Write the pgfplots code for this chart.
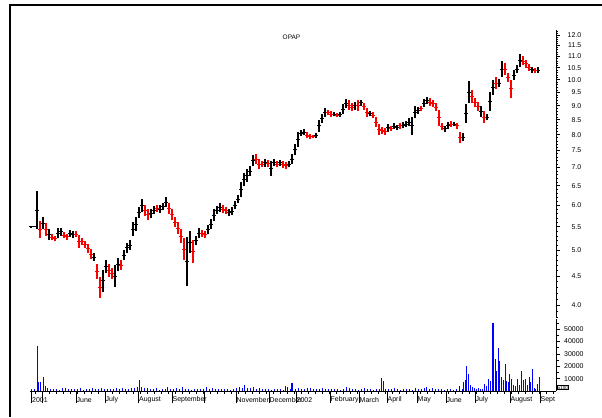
\documentclass[border=0pt]{standalone}
\usepackage{pgfplots}
\pgfplotsset{compat=1.18}
\usepackage{pgfplotstable}
\usepackage{fontspec}
\setmainfont{Liberation Sans}

\pgfplotstableread{
x lo hi
31 5.48 5.52
34 5.49 5.51
37 5.45 6.35
43 5.45 5.72
49 5.22 5.45
58 5.25 5.47
61 5.30 5.48
70 5.28 5.42
73 5.25 5.40
94 4.78 4.95
103 4.22 4.62
106 4.55 4.80
115 4.30 4.70
118 4.60 4.85
124 4.80 5.00
127 4.95 5.15
130 5.00 5.20
133 5.30 5.60
136 5.40 5.72
139 5.70 5.95
142 5.85 6.15
151 5.70 5.90
154 5.80 5.98
160 5.82 6.00
163 5.88 6.05
166 5.95 6.20
187 4.32 5.28
190 4.95 5.40
196 5.10 5.30
199 5.25 5.48
208 5.35 5.55
211 5.45 5.68
214 5.62 5.90
217 5.80 5.98
220 5.85 6.05
229 5.75 5.92
232 5.78 5.95
235 5.90 6.10
238 6.05 6.25
241 6.20 6.60
244 6.50 6.85
247 6.60 6.95
250 6.75 7.05
253 7.05 7.35
265 7.02 7.25
271 6.75 7.20
274 7.05 7.25
280 7.05 7.22
289 7.00 7.20
292 7.10 7.40
295 7.35 7.70
298 7.60 8.10
301 7.95 8.15
304 7.98 8.18
316 7.90 8.05
319 8.10 8.50
322 8.40 8.70
325 8.60 8.90
334 8.62 8.78
340 8.60 8.78
343 8.70 9.05
346 8.90 9.25
355 8.85 9.15
361 9.00 9.22
370 8.62 8.82
388 8.10 8.35
394 8.18 8.38
397 8.15 8.32
403 8.22 8.42
406 8.25 8.45
409 8.30 8.55
412 8.00 8.60
415 8.55 9.00
418 8.70 8.95
424 8.95 9.25
427 9.05 9.32
445 8.10 8.30
448 8.20 8.42
454 8.28 8.42
463 7.80 8.05
466 8.40 9.05
469 9.10 9.95
481 8.60 9.00
487 8.50 8.70
490 8.80 9.50
493 9.40 10.00
499 9.70 10.05
502 10.10 10.80
514 10.00 10.40
517 10.30 10.60
520 10.55 11.10
532 10.30 10.55
538 10.30 10.52
}\upbars

\pgfplotstableread{
x lo hi
40 5.25 5.62
46 5.30 5.58
52 5.20 5.35
55 5.18 5.30
64 5.25 5.38
67 5.22 5.35
76 5.28 5.40
79 5.05 5.32
82 5.10 5.25
85 5.05 5.18
88 4.95 5.12
91 4.82 5.02
97 4.45 4.72
100 4.12 4.48
109 4.48 4.72
112 4.45 4.65
121 4.62 4.80
145 5.75 6.00
148 5.65 5.90
157 5.85 6.00
169 5.80 6.05
172 5.65 5.90
175 5.50 5.72
178 5.35 5.60
181 5.15 5.45
184 4.80 5.25
193 4.75 5.20
202 5.28 5.42
205 5.25 5.40
223 5.82 6.00
226 5.80 5.95
256 7.10 7.38
259 6.95 7.25
262 7.00 7.20
268 7.00 7.22
277 7.00 7.20
283 6.98 7.18
286 6.95 7.15
307 7.88 8.08
310 7.85 8.02
313 7.88 8.00
328 8.65 8.85
331 8.60 8.80
337 8.58 8.75
349 8.85 9.20
352 8.80 9.10
358 8.80 9.20
364 8.85 9.10
367 8.60 8.90
373 8.55 8.78
376 8.25 8.60
379 8.00 8.35
382 8.02 8.25
385 8.00 8.22
391 8.12 8.30
400 8.20 8.40
421 8.80 9.00
430 9.00 9.28
433 8.95 9.20
436 8.80 9.10
439 8.30 8.85
442 8.15 8.40
451 8.25 8.45
457 8.20 8.40
460 7.72 8.10
472 9.10 9.60
475 8.95 9.30
478 8.80 9.15
484 8.40 8.80
496 9.65 10.10
505 10.20 10.70
508 9.90 10.30
511 9.30 10.00
523 10.60 11.00
526 10.50 10.85
529 10.35 10.65
535 10.28 10.50
}\downbars

\begin{document}
\begin{tikzpicture}[x=1bp,y=1bp]
\useasboundingbox (0,0) rectangle (602,417);
\fill[white] (0,0) rectangle (602,417);
\draw[line width=2bp] (10,0) -- (10,412) -- (602,412);
\node[font=\fontsize{6.5}{7}\selectfont] at (291.5,380) {OPAP};

\begin{axis}[
  at={(30bp,99.4bp)}, anchor=south west, scale only axis,
  width=526bp, height=287.7bp,
  xmin=30, xmax=556, ymode=log, ymin=3.8, ymax=12.25,
  axis x line=none, axis y line*=right, axis line style={-, line width=0.6bp},
  ytick={4,4.5,5,5.5,6,6.5,7,7.5,8,8.5,9,9.5,10,10.5,11,11.5,12},
  yticklabels={4.0,4.5,5.0,5.5,6.0,6.5,7.0,7.5,8.0,8.5,9.0,9.5,10.0,10.5,11.0,11.5,12.0},
  minor ytick={3.8,3.9,4.1,4.2,4.3,4.4,4.6,4.7,4.8,4.9,5.1,5.2,5.3,5.4,5.6,5.7,5.8,5.9,6.1,6.2,6.3,6.4,6.6,6.7,6.8,6.9,7.1,7.2,7.3,7.4,7.6,7.7,7.8,7.9,8.1,8.2,8.3,8.4,8.6,8.7,8.8,8.9,9.1,9.2,9.3,9.4,9.6,9.7,9.8,9.9,10.1,10.2,10.3,10.4,10.6,10.7,10.8,10.9,11.1,11.2,11.3,11.4,11.6,11.7,11.8,11.9,12.1,12.2},
  tick align=outside, major tick length=4bp, minor tick length=2bp,
  every tick/.style={black, line width=0.6bp},
  yticklabel style={font=\fontsize{7}{8}\selectfont, anchor=west, text width=17bp, align=right, inner sep=0pt, xshift=4bp},
  clip=false,
]
\addplot[draw=none, mark=none, error bars/.cd, y dir=plus, y explicit, error mark=none,
  error bar style={draw=black, line width=1.2bp}]
  table[x=x, y=lo, y error expr=\thisrow{hi}-\thisrow{lo}] {\upbars};
\addplot[only marks, mark=-, mark size=1.6bp, mark options={draw=black, line width=0.7bp}]
  table[x=x, y expr={sqrt(\thisrow{lo}*\thisrow{hi})}] {\upbars};
\addplot[draw=none, mark=none, error bars/.cd, y dir=plus, y explicit, error mark=none,
  error bar style={draw=red, line width=1.2bp}]
  table[x=x, y=lo, y error expr=\thisrow{hi}-\thisrow{lo}] {\downbars};
\addplot[only marks, mark=-, mark size=1.6bp, mark options={draw=red, line width=0.7bp}]
  table[x=x, y expr={sqrt(\thisrow{lo}*\thisrow{hi})}] {\downbars};
\end{axis}

\begin{axis}[
  at={(30bp,26bp)}, anchor=south west, scale only axis,
  width=526bp, height=71.9bp,
  xmin=30, xmax=556, ymin=0, ymax=58000,
  axis x line*=bottom, axis y line*=right, axis line style={-, line width=0.6bp},
  ytick={10000,20000,30000,40000,50000},
  yticklabels={10000,20000,30000,40000,50000},
  minor ytick={5000,15000,25000,35000,45000,55000},
  scaled y ticks=false,
  xtick={31.5,42,76,105,138.5,172,204,236,269,296,330,359,387,417,446,475,510,540},
  xticklabels={2001,,June,July,August,September,,November,December,2002,February,March,April,May,June,July,August,Sept},
  minor xtick={35,42,...,553},
  tick align=outside, major tick length=4bp, minor tick length=2.5bp,
  xtick style={/pgfplots/major tick length=12bp},
  every tick/.style={black, line width=0.6bp},
  yticklabel style={font=\fontsize{7}{8}\selectfont, anchor=west, text width=19bp, align=right, inner sep=0pt, xshift=4bp},
  xticklabel style={font=\fontsize{7}{8}\selectfont, anchor=west, inner sep=0.5bp, yshift=-5bp},
  clip=false,
]
\addplot[ycomb, blue, line width=1bp, mark=none] coordinates {
(31,1500)(34,2000)(37,36000)(38,7500)(40,7000)(43,11500)(45,4000)(47,2500)(50,1800)(53,1500)(56,2000)(59,1200)(62,2500)(65,2800)(68,1500)(71,2000)(74,1800)(77,1500)(80,2200)(83,1200)(86,1800)(89,1500)(92,2500)(95,2000)(98,1800)(101,2200)(104,1500)(107,2000)(110,1800)(113,1500)(116,2500)(119,1800)(122,2200)(125,1500)(128,1800)(131,2200)(134,2500)(137,3500)(139,9000)(141,3500)(144,2800)(147,2500)(150,1500)(153,1800)(156,2500)(159,1200)(162,2000)(165,1500)(167,3500)(170,1800)(173,1500)(176,2500)(179,2000)(182,3500)(185,2000)(188,1800)(191,1200)(194,1500)(197,2000)(200,1800)(203,1500)(206,3500)(209,1800)(212,2200)(215,1500)(218,2000)(221,1800)(224,1500)(227,2000)(230,1200)(233,1800)(236,2500)(239,3500)(242,2800)(244,4500)(247,2500)(250,2200)(253,3000)(256,1800)(259,2500)(262,1500)(265,1800)(268,1500)(271,1200)(274,1500)(277,1800)(280,1500)(283,1200)(285,4000)(287,3500)(290,1500)(291,6500)(292,6800)(295,1500)(298,2200)(301,2000)(304,1800)(307,2500)(310,2200)(313,1800)(316,2000)(319,1500)(322,2200)(325,1800)(328,1500)(331,2000)(334,1800)(337,1500)(340,1200)(343,1800)(346,3000)(349,2500)(352,1500)(355,1800)(358,1200)(361,1500)(364,2500)(367,1500)(370,2000)(373,1200)(376,1500)(379,1800)(381,10500)(383,8000)(385,2000)(388,1800)(391,1500)(394,2200)(397,1500)(400,1200)(403,1500)(406,1800)(409,1500)(412,1200)(415,2500)(418,1800)(421,1500)(424,2200)(426,3500)(429,1800)(432,2500)(435,2000)(438,1800)(441,1500)(444,1200)(447,1800)(450,1500)(453,1200)(456,1500)(459,3800)(462,1800)(463,7000)(465,9000)(466,20500)(468,14000)(470,5000)(472,3500)(474,2500)(476,1800)(478,2500)(480,2000)(482,1500)(484,5500)(486,4000)(488,9500)(490,8000)(492,55000)(493,55000)(495,26000)(496,16000)(498,34500)(499,24000)(501,11000)(503,9000)(505,22000)(506,8000)(508,7000)(509,13500)(511,9500)(513,5000)(515,4000)(517,10000)(519,5000)(521,16500)(523,9000)(525,9500)(527,4500)(529,11000)(530,7500)(532,17500)(534,2500)(535,2000)(537,5500)(539,11000)
};
\end{axis}
\node[draw, line width=0.5bp, inner sep=0.6bp, font=\fontsize{4.5}{5}\selectfont] at (563,29.5) {x100};
\end{tikzpicture}
\end{document}
